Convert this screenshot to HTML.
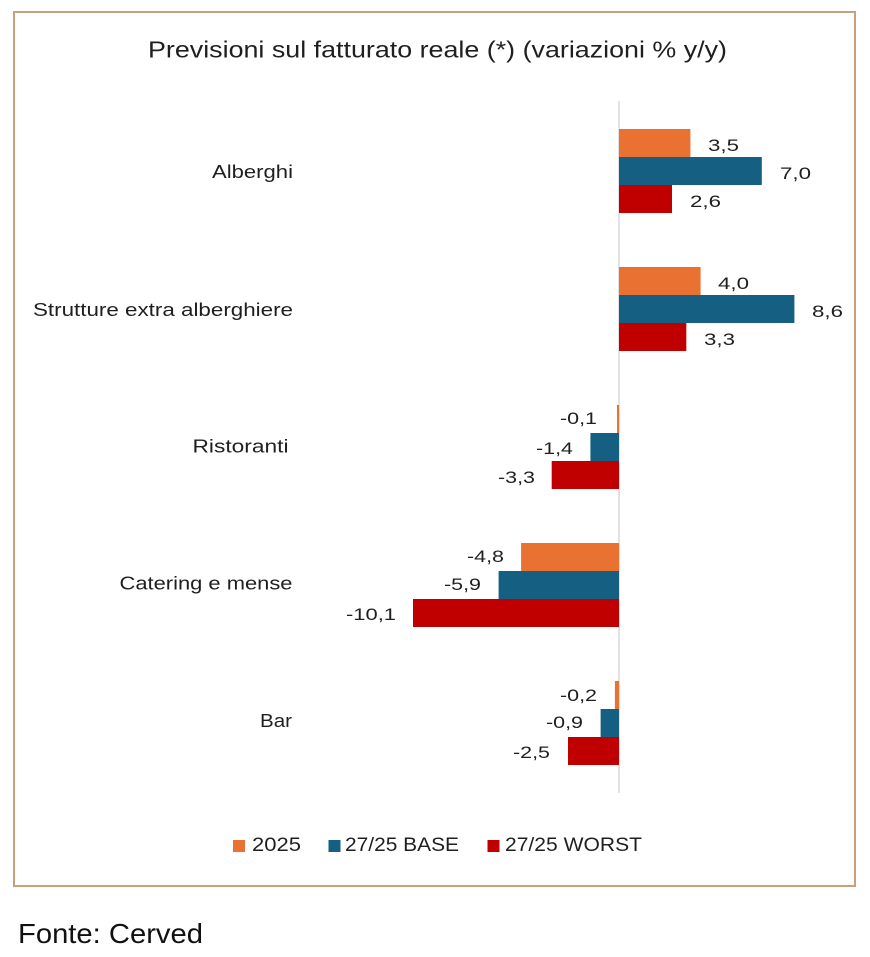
<!DOCTYPE html>
<html><head><meta charset="utf-8"><style>
html,body{margin:0;padding:0;background:#fff;}
svg{display:block;}
text{font-family:"Liberation Sans",Arial,sans-serif;fill:#1f1f1f;}
</style></head><body>
<svg width="870" height="957" viewBox="0 0 870 957" xmlns="http://www.w3.org/2000/svg">
<rect x="0" y="0" width="870" height="957" fill="#fff"/>
<rect x="14" y="12" width="841" height="874" fill="#fff" stroke="#c9a07c" stroke-width="2"/>
<text x="148" y="57.5" font-size="23" textLength="579" lengthAdjust="spacingAndGlyphs">Previsioni sul fatturato reale (*) (variazioni % y/y)</text>

<!-- axis -->
<line x1="619" y1="101" x2="619" y2="793" stroke="#d9d9d9" stroke-width="1.5"/>

<!-- Alberghi -->
<rect x="619" y="129" width="71.4" height="28" fill="#e97132"/>
<rect x="619" y="157" width="142.8" height="28" fill="#156082"/>
<rect x="619" y="185" width="53" height="28" fill="#c00000"/>
<!-- Strutture -->
<rect x="619" y="267" width="81.6" height="28" fill="#e97132"/>
<rect x="619" y="295" width="175.4" height="28" fill="#156082"/>
<rect x="619" y="323" width="67.3" height="28" fill="#c00000"/>
<!-- Ristoranti -->
<rect x="617" y="405" width="2" height="28" fill="#e97132"/>
<rect x="590.4" y="433" width="28.6" height="28" fill="#156082"/>
<rect x="551.7" y="461" width="67.3" height="28" fill="#c00000"/>
<!-- Catering -->
<rect x="521.1" y="543" width="97.9" height="28" fill="#e97132"/>
<rect x="498.6" y="571" width="120.4" height="28" fill="#156082"/>
<rect x="413" y="599" width="206" height="28" fill="#c00000"/>
<!-- Bar -->
<rect x="614.9" y="681" width="4.1" height="28" fill="#e97132"/>
<rect x="600.6" y="709" width="18.4" height="28" fill="#156082"/>
<rect x="568" y="737" width="51" height="28" fill="#c00000"/>

<!-- category labels -->
<g font-size="18.5">
<text x="212" y="178" textLength="81" lengthAdjust="spacingAndGlyphs">Alberghi</text>
<text x="33" y="316" textLength="260" lengthAdjust="spacingAndGlyphs">Strutture extra alberghiere</text>
<text x="192.5" y="452.5" textLength="96" lengthAdjust="spacingAndGlyphs">Ristoranti</text>
<text x="119.5" y="589.5" textLength="173" lengthAdjust="spacingAndGlyphs">Catering e mense</text>
<text x="260" y="727" textLength="32" lengthAdjust="spacingAndGlyphs">Bar</text>
</g>

<!-- data labels -->
<g font-size="17">
<text x="708" y="151" textLength="31" lengthAdjust="spacingAndGlyphs">3,5</text>
<text x="780" y="179" textLength="31" lengthAdjust="spacingAndGlyphs">7,0</text>
<text x="690" y="207" textLength="31" lengthAdjust="spacingAndGlyphs">2,6</text>
<text x="718" y="289" textLength="31" lengthAdjust="spacingAndGlyphs">4,0</text>
<text x="812" y="317" textLength="31" lengthAdjust="spacingAndGlyphs">8,6</text>
<text x="704" y="345" textLength="31" lengthAdjust="spacingAndGlyphs">3,3</text>

<g text-anchor="end">
<text x="597" y="424" textLength="37" lengthAdjust="spacingAndGlyphs">-0,1</text>
<text x="573" y="454" textLength="37" lengthAdjust="spacingAndGlyphs">-1,4</text>
<text x="535" y="483" textLength="37" lengthAdjust="spacingAndGlyphs">-3,3</text>
<text x="504" y="562" textLength="37" lengthAdjust="spacingAndGlyphs">-4,8</text>
<text x="481" y="590" textLength="37" lengthAdjust="spacingAndGlyphs">-5,9</text>
<text x="396" y="620" textLength="50" lengthAdjust="spacingAndGlyphs">-10,1</text>
<text x="597" y="701" textLength="37" lengthAdjust="spacingAndGlyphs">-0,2</text>
<text x="583" y="728" textLength="37" lengthAdjust="spacingAndGlyphs">-0,9</text>
<text x="550" y="758" textLength="37" lengthAdjust="spacingAndGlyphs">-2,5</text>
</g>
</g>

<!-- legend -->
<rect x="233" y="840" width="12" height="12" fill="#e97132"/>
<rect x="328.5" y="840" width="12" height="12" fill="#156082"/>
<rect x="487.5" y="840" width="12" height="12" fill="#c00000"/>
<g font-size="19">
<text x="252" y="851" textLength="49" lengthAdjust="spacingAndGlyphs">2025</text>
<text x="345" y="851" textLength="114" lengthAdjust="spacingAndGlyphs">27/25 BASE</text>
<text x="505" y="851" textLength="137" lengthAdjust="spacingAndGlyphs">27/25 WORST</text>
</g>

<text x="18" y="943" font-size="27.5" textLength="185" lengthAdjust="spacingAndGlyphs" style="fill:#111">Fonte: Cerved</text>
</svg>
</body></html>
